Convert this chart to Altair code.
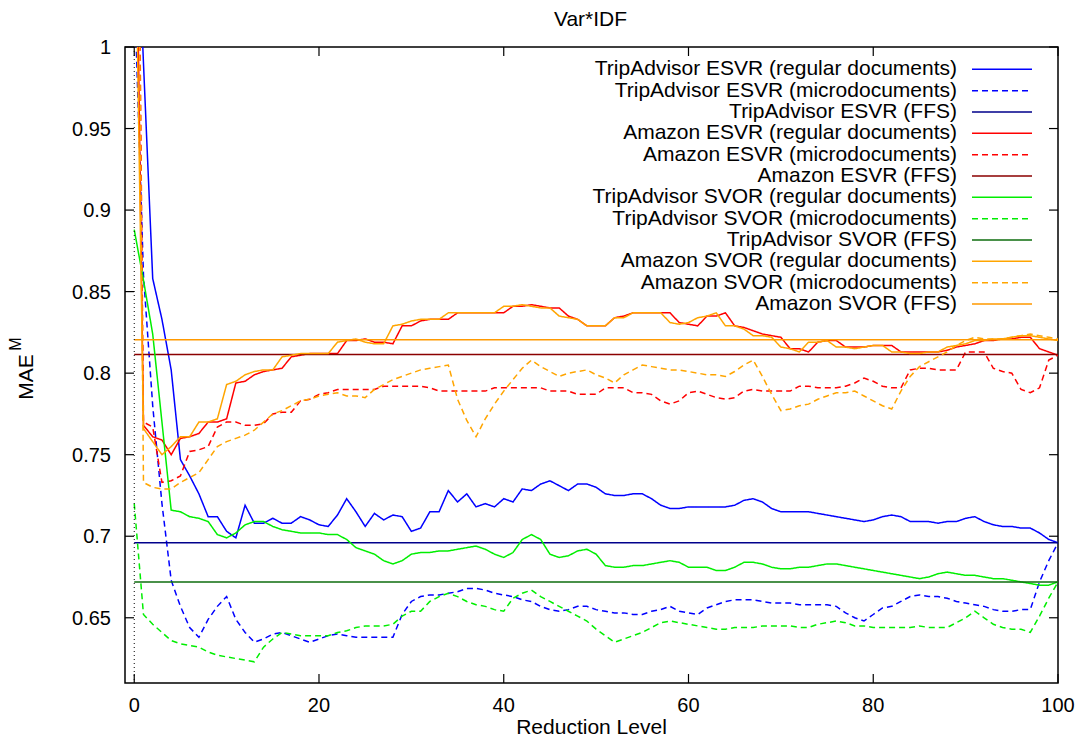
import altair as alt
import pandas as pd

# ---------------- data ----------------
X = list(range(101))

SERIES = [
    "TripAdvisor ESVR (regular documents)",
    "TripAdvisor ESVR (microdocuments)",
    "TripAdvisor ESVR (FFS)",
    "Amazon ESVR (regular documents)",
    "Amazon ESVR (microdocuments)",
    "Amazon ESVR (FFS)",
    "TripAdvisor SVOR (regular documents)",
    "TripAdvisor SVOR (microdocuments)",
    "TripAdvisor SVOR (FFS)",
    "Amazon SVOR (regular documents)",
    "Amazon SVOR (microdocuments)",
    "Amazon SVOR (FFS)",
]
COLORS = ["#0000ff", "#0000ff", "#00008b",
          "#ff0000", "#ff0000", "#8b0000",
          "#00ee00", "#00ee00", "#0f6e0f",
          "#ffa500", "#ffa500", "#ff9900"]
DASHED = [False, True, False, False, True, False,
          False, True, False, False, True, False]

TA_ESVR_REG = [
    1.13, 0.99, 0.858, 0.833, 0.802, 0.747, 0.737, 0.726, 0.712, 0.712,
    0.703, 0.699, 0.719, 0.708, 0.708, 0.711, 0.708, 0.708, 0.712, 0.710,
    0.707, 0.706, 0.713, 0.723, 0.715, 0.706, 0.714, 0.710, 0.713, 0.712,
    0.703, 0.705, 0.715, 0.715, 0.728, 0.721, 0.726, 0.718, 0.720, 0.718,
    0.723, 0.721, 0.729, 0.728, 0.732, 0.734, 0.731, 0.728, 0.732, 0.732,
    0.730, 0.726, 0.725, 0.725, 0.726, 0.726, 0.723, 0.719, 0.717, 0.717,
    0.718, 0.718, 0.718, 0.718, 0.718, 0.719, 0.722, 0.723, 0.721, 0.717,
    0.715, 0.715, 0.715, 0.715, 0.714, 0.713, 0.712, 0.711, 0.710, 0.709,
    0.710, 0.712, 0.713, 0.712, 0.709, 0.709, 0.709, 0.708, 0.709, 0.709,
    0.711, 0.712, 0.709, 0.707, 0.706, 0.706, 0.705, 0.705, 0.702, 0.698,
    0.696]
TA_ESVR_MICRO = [
    1.04, 0.86, 0.78, 0.72, 0.673, 0.657, 0.644, 0.638, 0.649, 0.657,
    0.663, 0.649, 0.641, 0.635, 0.637, 0.640, 0.641, 0.639, 0.637, 0.635,
    0.637, 0.639, 0.640, 0.639, 0.638, 0.638, 0.638, 0.638, 0.638, 0.652,
    0.660, 0.663, 0.664, 0.664, 0.665, 0.666, 0.668, 0.668, 0.667, 0.665,
    0.664, 0.663, 0.661, 0.660, 0.657, 0.655, 0.654, 0.655, 0.657, 0.657,
    0.655, 0.654, 0.653, 0.653, 0.652, 0.652, 0.654, 0.655, 0.657, 0.654,
    0.653, 0.652, 0.656, 0.658, 0.660, 0.661, 0.661, 0.661, 0.660, 0.659,
    0.659, 0.659, 0.658, 0.658, 0.658, 0.658, 0.657, 0.653, 0.650, 0.648,
    0.652, 0.656, 0.657, 0.660, 0.663, 0.664, 0.663, 0.663, 0.662, 0.660,
    0.659, 0.658, 0.657, 0.655, 0.654, 0.654, 0.655, 0.655, 0.672, 0.685,
    0.696]
AMZ_ESVR_REG = [
    1.19, 0.768, 0.761, 0.759, 0.750, 0.760, 0.761, 0.763, 0.770, 0.770,
    0.772, 0.794, 0.795, 0.799, 0.801, 0.802, 0.803, 0.810, 0.811, 0.812,
    0.812, 0.812, 0.812, 0.820, 0.820, 0.821, 0.819, 0.819, 0.818, 0.829,
    0.829, 0.832, 0.833, 0.833, 0.833, 0.837, 0.837, 0.837, 0.837, 0.837,
    0.837, 0.841, 0.841, 0.842, 0.841, 0.840, 0.840, 0.835, 0.833, 0.829,
    0.829, 0.829, 0.834, 0.835, 0.837, 0.837, 0.837, 0.837, 0.837, 0.831,
    0.830, 0.829, 0.835, 0.835, 0.837, 0.829, 0.828, 0.826, 0.824, 0.823,
    0.822, 0.815, 0.815, 0.813, 0.819, 0.820, 0.820, 0.816, 0.816, 0.816,
    0.817, 0.817, 0.817, 0.813, 0.813, 0.813, 0.813, 0.813, 0.814, 0.816,
    0.817, 0.818, 0.820, 0.820, 0.821, 0.821, 0.822, 0.822, 0.815, 0.813,
    0.811]
AMZ_ESVR_MICRO = [
    1.40, 0.770, 0.767, 0.733, 0.734, 0.737, 0.752, 0.753, 0.755, 0.767,
    0.770, 0.770, 0.768, 0.768, 0.769, 0.775, 0.776, 0.776, 0.783, 0.784,
    0.787, 0.788, 0.790, 0.790, 0.790, 0.790, 0.790, 0.792, 0.792, 0.792,
    0.792, 0.792, 0.791, 0.789, 0.789, 0.789, 0.789, 0.789, 0.789, 0.791,
    0.791, 0.791, 0.791, 0.791, 0.791, 0.789, 0.789, 0.789, 0.787, 0.787,
    0.787, 0.791, 0.791, 0.791, 0.788, 0.788, 0.787, 0.783, 0.781, 0.783,
    0.788, 0.789, 0.787, 0.785, 0.784, 0.785, 0.789, 0.790, 0.789, 0.789,
    0.789, 0.789, 0.792, 0.792, 0.791, 0.791, 0.791, 0.792, 0.794, 0.797,
    0.795, 0.792, 0.791, 0.791, 0.802, 0.803, 0.803, 0.802, 0.802, 0.802,
    0.813, 0.813, 0.813, 0.803, 0.801, 0.800, 0.790, 0.788, 0.791, 0.808,
    0.811]
TA_SVOR_REG = [
    0.888, 0.857, 0.824, 0.770, 0.716, 0.715, 0.712, 0.711, 0.709, 0.701,
    0.699, 0.702, 0.707, 0.709, 0.709, 0.706, 0.704, 0.703, 0.702, 0.702,
    0.702, 0.701, 0.701, 0.698, 0.693, 0.691, 0.689, 0.685, 0.683, 0.685,
    0.689, 0.690, 0.690, 0.691, 0.691, 0.692, 0.693, 0.694, 0.692, 0.689,
    0.687, 0.690, 0.698, 0.701, 0.698, 0.689, 0.687, 0.688, 0.691, 0.692,
    0.689, 0.682, 0.681, 0.681, 0.682, 0.682, 0.683, 0.684, 0.685, 0.684,
    0.681, 0.681, 0.681, 0.679, 0.679, 0.681, 0.684, 0.684, 0.683, 0.681,
    0.680, 0.680, 0.681, 0.681, 0.682, 0.683, 0.683, 0.682, 0.681, 0.680,
    0.679, 0.678, 0.677, 0.676, 0.675, 0.674, 0.675, 0.677, 0.678, 0.677,
    0.676, 0.676, 0.675, 0.674, 0.674, 0.673, 0.672, 0.671, 0.670, 0.670,
    0.672]
TA_SVOR_MICRO = [
    0.720, 0.652, 0.646, 0.641, 0.636, 0.634, 0.633, 0.632, 0.629, 0.627,
    0.626, 0.625, 0.624, 0.623, 0.632, 0.637, 0.641, 0.640, 0.639, 0.639,
    0.639, 0.639, 0.641, 0.642, 0.644, 0.645, 0.645, 0.645, 0.646, 0.651,
    0.654, 0.654, 0.660, 0.663, 0.665, 0.663, 0.660, 0.658, 0.657, 0.655,
    0.654, 0.662, 0.665, 0.667, 0.663, 0.660, 0.657, 0.654, 0.651, 0.648,
    0.643, 0.639, 0.635, 0.637, 0.639, 0.641, 0.644, 0.647, 0.648, 0.647,
    0.646, 0.645, 0.644, 0.643, 0.643, 0.644, 0.644, 0.644, 0.645, 0.645,
    0.645, 0.645, 0.644, 0.644, 0.646, 0.647, 0.648, 0.647, 0.645, 0.645,
    0.644, 0.644, 0.644, 0.644, 0.644, 0.645, 0.644, 0.644, 0.644, 0.647,
    0.650, 0.654, 0.650, 0.646, 0.644, 0.643, 0.643, 0.641, 0.651, 0.662,
    0.672]
AMZ_SVOR_REG = [
    1.126, 0.766, 0.758, 0.750, 0.755, 0.761, 0.761, 0.770, 0.770, 0.772,
    0.793, 0.795, 0.799, 0.801, 0.802, 0.802, 0.810, 0.811, 0.812, 0.812,
    0.812, 0.812, 0.819, 0.820, 0.821, 0.819, 0.818, 0.818, 0.829, 0.830,
    0.832, 0.833, 0.833, 0.833, 0.837, 0.837, 0.837, 0.837, 0.837, 0.837,
    0.841, 0.841, 0.842, 0.841, 0.840, 0.840, 0.835, 0.834, 0.833, 0.829,
    0.829, 0.829, 0.834, 0.834, 0.837, 0.837, 0.837, 0.837, 0.831, 0.830,
    0.831, 0.834, 0.835, 0.837, 0.829, 0.829, 0.827, 0.823, 0.823, 0.822,
    0.816, 0.815, 0.813, 0.819, 0.819, 0.820, 0.816, 0.816, 0.815, 0.816,
    0.817, 0.817, 0.813, 0.813, 0.812, 0.812, 0.813, 0.813, 0.816, 0.817,
    0.818, 0.820, 0.820, 0.821, 0.821, 0.822, 0.823, 0.823, 0.822, 0.821,
    0.820]
AMZ_SVOR_MICRO = [
    1.40, 0.733, 0.730, 0.729, 0.729, 0.733, 0.736, 0.739, 0.747, 0.755,
    0.758, 0.760, 0.762, 0.765, 0.770, 0.775, 0.777, 0.780, 0.783, 0.784,
    0.786, 0.787, 0.788, 0.786, 0.786, 0.785, 0.790, 0.793, 0.796, 0.798,
    0.800, 0.802, 0.803, 0.804, 0.805, 0.784, 0.771, 0.761, 0.772, 0.781,
    0.789, 0.796, 0.803, 0.808, 0.804, 0.801, 0.798, 0.800, 0.801, 0.802,
    0.799, 0.797, 0.794, 0.799, 0.802, 0.805, 0.804, 0.803, 0.802, 0.802,
    0.801, 0.800, 0.799, 0.799, 0.798, 0.801, 0.805, 0.808, 0.798, 0.787,
    0.777, 0.778, 0.780, 0.781, 0.784, 0.786, 0.788, 0.788, 0.789, 0.786,
    0.783, 0.780, 0.778, 0.789, 0.798, 0.804, 0.807, 0.810, 0.813, 0.817,
    0.820, 0.822, 0.821, 0.821, 0.821, 0.822, 0.823, 0.824, 0.823, 0.822,
    0.821]

# FFS baselines (constant over the whole reduction range)
TA_ESVR_FFS = 0.696
AMZ_ESVR_FFS = 0.8115
TA_SVOR_FFS = 0.672
AMZ_SVOR_FFS = 0.8205

X_TICKS = [0, 20, 40, 60, 80, 100]
Y_TICKS = [0.65, 0.7, 0.75, 0.8, 0.85, 0.9, 0.95, 1.0]

TITLE = "Var*IDF"
X_TITLE = "Reduction Level"
Y_TITLE = "MAE"
Y_TITLE_SUP = "M"

# ---------------- build table ----------------
curves = {
    SERIES[0]: TA_ESVR_REG, SERIES[1]: TA_ESVR_MICRO,
    SERIES[3]: AMZ_ESVR_REG, SERIES[4]: AMZ_ESVR_MICRO,
    SERIES[6]: TA_SVOR_REG, SERIES[7]: TA_SVOR_MICRO,
    SERIES[9]: AMZ_SVOR_REG, SERIES[10]: AMZ_SVOR_MICRO,
}
ffs = {SERIES[2]: TA_ESVR_FFS, SERIES[5]: AMZ_ESVR_FFS,
       SERIES[8]: TA_SVOR_FFS, SERIES[11]: AMZ_SVOR_FFS}

rows = []
for s in SERIES:
    if s in curves:
        for xv, yv in zip(X, curves[s]):
            rows.append({"series": s, "x": xv, "y": yv})
    else:
        for xv in (X[0], X[-1]):
            rows.append({"series": s, "x": xv, "y": ffs[s]})
df = pd.DataFrame(rows)

leg_df = pd.DataFrame({"series": SERIES, "rank": list(range(len(SERIES)))})
ytick_df = pd.DataFrame({"y": Y_TICKS})
xtick_df = pd.DataFrame({"x": X_TICKS})

# ---------------- styling ----------------
W, H = 933, 636
FONT = "Liberation Sans"
FS = 20
FS_BIG = 21
TICK = 9
DASHES = [[6, 4] if d else [1, 0] for d in DASHED]
Y_MIN, Y_MAX = 0.61, 1.0

# key rows: first row 22.3px below the top of the frame, 21.34px apart
LEG_TOP = Y_MAX - 22.3 / H * (Y_MAX - Y_MIN)
LEG_STEP = 21.34 / H * (Y_MAX - Y_MIN)

xscale = alt.Scale(domain=[-1, 100], nice=False, zero=False)
yscale = alt.Scale(domain=[Y_MIN, Y_MAX], nice=False, zero=False)
color_scale = alt.Scale(domain=SERIES, range=COLORS)
dash_scale = alt.Scale(domain=SERIES, range=DASHES)

lines = alt.Chart(df).mark_line(clip=True, strokeWidth=1.5).encode(
    x=alt.X("x:Q", scale=xscale, axis=None),
    y=alt.Y("y:Q", scale=yscale, axis=None),
    color=alt.Color("series:N", scale=color_scale, legend=None),
    strokeDash=alt.StrokeDash("series:N", scale=dash_scale, legend=None),
    order=alt.Order("x:Q"),
)

zero_line = alt.Chart(xtick_df).transform_filter("datum.x == 0").mark_rule(
    color="black", strokeWidth=1, strokeDash=[1, 3]
).encode(x=alt.X("x:Q", scale=xscale, axis=None))

# ticks (inward, on all four sides, like a gnuplot border)
ytick_enc = dict(y=alt.Y("y:Q", scale=yscale, axis=None))
left_ticks = alt.Chart(ytick_df).mark_rule(color="black", strokeWidth=1.2).encode(
    x=alt.value(0), x2=alt.value(TICK), **ytick_enc)
right_ticks = alt.Chart(ytick_df).mark_rule(color="black", strokeWidth=1.2).encode(
    x=alt.value(W - TICK), x2=alt.value(W), **ytick_enc)
xtick_enc = dict(x=alt.X("x:Q", scale=xscale, axis=None))
bottom_ticks = alt.Chart(xtick_df).mark_rule(color="black", strokeWidth=1.2).encode(
    y=alt.value(H - TICK), y2=alt.value(H), **xtick_enc)
top_ticks = alt.Chart(xtick_df).mark_rule(color="black", strokeWidth=1.2).encode(
    y=alt.value(0), y2=alt.value(TICK), **xtick_enc)

# tick labels through the same scales
ylabels = alt.Chart(ytick_df).mark_text(
    font=FONT, fontSize=FS, align="right", baseline="middle", color="black", dy=1
).encode(y=alt.Y("y:Q", scale=yscale, axis=None), x=alt.value(-14),
         text=alt.Text("y:Q", format="~g"))
xlabels = alt.Chart(xtick_df).mark_text(
    font=FONT, fontSize=FS, align="center", baseline="alphabetic", color="black"
).encode(x=alt.X("x:Q", scale=xscale, axis=None), y=alt.value(H + 29),
         text=alt.Text("x:Q"))

# titles
def label(txt, **kw):
    return alt.Chart(pd.DataFrame({"t": [txt]})).mark_text(
        font=FONT, color="black", **kw).encode(text="t:N")

x_title = label(X_TITLE, fontSize=FS_BIG, align="center", baseline="alphabetic"
                ).encode(x=alt.value(W / 2), y=alt.value(H + 51))
y_title = label(Y_TITLE, fontSize=FS_BIG, angle=270, align="center",
                baseline="alphabetic").encode(x=alt.value(-92), y=alt.value(330))
y_sup = label(Y_TITLE_SUP, fontSize=16, angle=270, align="center",
              baseline="alphabetic").encode(x=alt.value(-104), y=alt.value(297))
main_title = label(TITLE, fontSize=FS_BIG, align="center", baseline="alphabetic"
                   ).encode(x=alt.value(W / 2 - 1), y=alt.value(-21))

# key in the upper right: labels right-aligned to the left of the samples
leg_base = alt.Chart(leg_df).transform_calculate(
    ly=f"{LEG_TOP} - datum.rank * {LEG_STEP}")
leg_y = alt.Y("ly:Q", scale=yscale, axis=None)
leg_lines = leg_base.mark_rule(strokeWidth=1.5).encode(
    x=alt.value(847), x2=alt.value(907), y=leg_y,
    color=alt.Color("series:N", scale=color_scale, legend=None),
    strokeDash=alt.StrokeDash("series:N", scale=dash_scale, legend=None),
)
leg_text = leg_base.mark_text(
    font=FONT, fontSize=FS_BIG, align="right", baseline="middle", color="black"
).encode(x=alt.value(832), y=leg_y, text="series:N")

chart = alt.layer(
    lines, zero_line, left_ticks, right_ticks, bottom_ticks, top_ticks,
    ylabels, xlabels, x_title, y_title, y_sup, main_title,
    leg_lines, leg_text
).properties(
    width=W, height=H,
    autosize=alt.AutoSizeParams(type="none"),
    padding={"left": 117, "top": 39, "right": 21, "bottom": 56},
).configure(background="white").configure_view(stroke="black", strokeWidth=1.5)

chart.save("out.html", embed_options={"renderer": "svg", "actions": False})
